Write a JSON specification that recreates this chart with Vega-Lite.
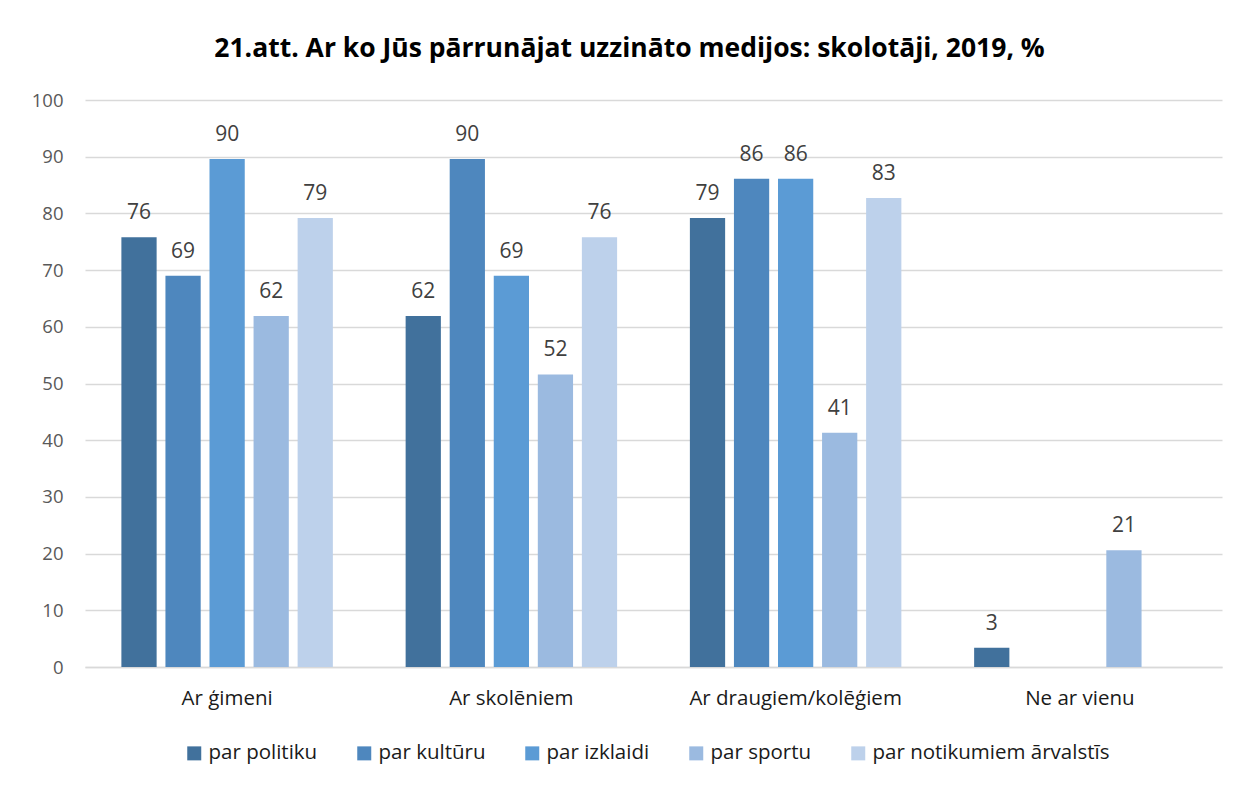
{
  "$schema": "https://vega.github.io/schema/vega-lite/v6.json",
  "autosize": {"type": "none"},
  "width": 1137,
  "height": 567,
  "padding": {"left": 85, "top": 100, "right": 19, "bottom": 119},
  "background": "white",
  "title": {
    "text": "21.att. Ar ko Jūs pārrunājat uzzināto medijos: skolotāji, 2019, %",
    "font": "Open Sans",
    "fontSize": 26.5,
    "fontWeight": "bold",
    "color": "#000000",
    "anchor": "middle",
    "dx": -24,
    "offset": 29
  },
  "data": {
    "values": [
      {"grupa": "Ar ģimeni", "tema": "par politiku", "v": 75.8},
      {"grupa": "Ar ģimeni", "tema": "par kultūru", "v": 69.0},
      {"grupa": "Ar ģimeni", "tema": "par izklaidi", "v": 89.6},
      {"grupa": "Ar ģimeni", "tema": "par sportu", "v": 61.9},
      {"grupa": "Ar ģimeni", "tema": "par notikumiem ārvalstīs", "v": 79.2},
      {"grupa": "Ar skolēniem", "tema": "par politiku", "v": 61.9},
      {"grupa": "Ar skolēniem", "tema": "par kultūru", "v": 89.6},
      {"grupa": "Ar skolēniem", "tema": "par izklaidi", "v": 69.0},
      {"grupa": "Ar skolēniem", "tema": "par sportu", "v": 51.6},
      {"grupa": "Ar skolēniem", "tema": "par notikumiem ārvalstīs", "v": 75.8},
      {"grupa": "Ar draugiem/kolēģiem", "tema": "par politiku", "v": 79.2},
      {"grupa": "Ar draugiem/kolēģiem", "tema": "par kultūru", "v": 86.1},
      {"grupa": "Ar draugiem/kolēģiem", "tema": "par izklaidi", "v": 86.1},
      {"grupa": "Ar draugiem/kolēģiem", "tema": "par sportu", "v": 41.3},
      {"grupa": "Ar draugiem/kolēģiem", "tema": "par notikumiem ārvalstīs", "v": 82.7},
      {"grupa": "Ne ar vienu", "tema": "par politiku", "v": 3.4},
      {"grupa": "Ne ar vienu", "tema": "par sportu", "v": 20.6}
    ]
  },
  "encoding": {
    "x": {
      "field": "grupa", "type": "nominal",
      "sort": ["Ar ģimeni", "Ar skolēniem", "Ar draugiem/kolēģiem", "Ne ar vienu"],
      "scale": {"paddingInner": 0.225, "paddingOuter": 0.1125},
      "axis": {
        "title": null, "labelAngle": 0, "ticks": false,
        "domainColor": "#D9D9D9", "domainWidth": 1.5,
        "labelFont": "Open Sans", "labelFontSize": 20.5, "labelColor": "#1a1a1a",
        "labelPadding": 21, "labelLimit": 400
      }
    },
    "xOffset": {
      "field": "tema", "type": "nominal",
      "sort": ["par politiku", "par kultūru", "par izklaidi", "par sportu", "par notikumiem ārvalstīs"],
      "scale": {"paddingInner": 0.2, "paddingOuter": 0.1}
    },
    "y": {
      "field": "v", "type": "quantitative",
      "scale": {"domain": [0, 100]},
      "axis": {
        "title": null, "values": [0,10,20,30,40,50,60,70,80,90,100],
        "domain": false, "ticks": false,
        "gridColor": "#D9D9D9", "gridWidth": 1.5,
        "labelFont": "Open Sans", "labelFontSize": 18.5, "labelColor": "#595959",
        "labelPadding": 22
      }
    }
  },
  "layer": [
    {
      "mark": {"type": "bar"},
      "encoding": {
        "color": {
          "field": "tema", "type": "nominal",
          "sort": ["par politiku", "par kultūru", "par izklaidi", "par sportu", "par notikumiem ārvalstīs"],
          "scale": {
            "domain": ["par politiku", "par kultūru", "par izklaidi", "par sportu", "par notikumiem ārvalstīs"],
            "range": ["#41719C", "#4E87BE", "#5B9BD5", "#9BBAE0", "#BDD1EB"]
          },
          "legend": {
            "title": null, "orient": "none", "direction": "horizontal",
            "legendX": 99, "legendY": 643,
            "symbolType": "square", "symbolSize": 196, "symbolStrokeWidth": 0,
            "labelFont": "Open Sans", "labelFontSize": 20.5, "labelColor": "#1a1a1a",
            "labelLimit": 500, "columnPadding": 36, "labelOffset": 4
          }
        }
      }
    },
    {
      "mark": {"type": "text", "baseline": "bottom", "dy": -14, "font": "Open Sans", "fontSize": 21, "color": "#404040"},
      "encoding": {
        "text": {"field": "v", "type": "quantitative", "format": ".0f"}
      }
    }
  ],
  "config": {"view": {"stroke": null}}
}
